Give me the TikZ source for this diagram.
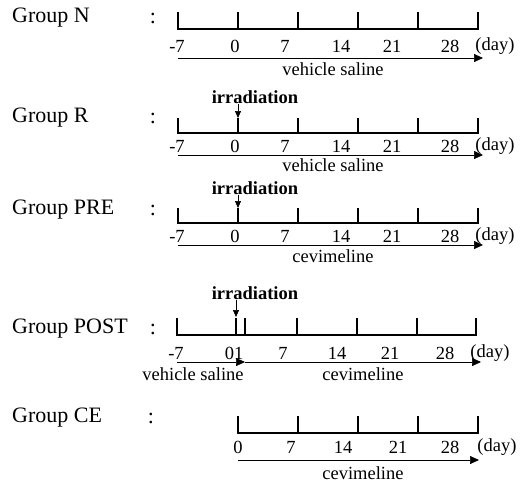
\documentclass[tikz,border=0pt]{standalone}
\usepackage{fontspec}
\setmainfont{Liberation Serif}
\usetikzlibrary{arrows.meta}
\begin{document}
\begin{tikzpicture}
[x=1pt,y=-1pt,
grp/.style={anchor=west,inner sep=0pt,font=\fontsize{22}{22}\selectfont},
colon/.style={inner sep=0pt,font=\fontsize{22}{22}\selectfont},
num/.style={inner sep=0pt,font=\fontsize{18.5}{18.5}\selectfont},
drug/.style={inner sep=0pt,font=\fontsize{18.5}{18.5}\selectfont},
irr/.style={inner sep=0pt,font=\bfseries\fontsize{18.5}{18.5}\selectfont},
axis/.style={line width=1.6pt},
treat/.style={line width=0.7pt,-{Triangle[length=9pt,width=8pt]}},
hit/.style={line width=0.7pt,-{Triangle[length=7pt,width=6pt]}},
]
\useasboundingbox (0,0) rectangle (527,485);

% Group N
\node[grp] (gN) at (12,18) {Group N};
\node[colon] (cN) at (153,18) {:};
\draw[axis] (178,12) -- (178,29) -- (478,29) -- (478,12);
\foreach \x in {238,298,358,418} \draw[axis] (\x,12) -- (\x,29);
\foreach \x/\d in {177/-7,235/0,285/7,341/14,392/21,450/28}
  \node[num] (lN\x) at (\x,46) {\d};
\node[num] (dN) at (495,46) {(day)};
\coordinate (sN) at (178,58);
\coordinate (eN) at (483,58);
\draw[treat] (sN) -- (eN);
\node[drug] (vN) at (333,69) {vehicle saline};

% Group R
\node[irr] (iR) at (255,97) {irradiation};
\coordinate (hR) at (238,118);
\draw[hit] (iR.south -| hR) -- (hR);
\node[grp] (gR) at (12,118) {Group R};
\node[colon] (cR) at (153,118) {:};
\draw[axis] (178,118) -- (178,133) -- (478,133) -- (478,118);
\foreach \x in {238,298,358,418} \draw[axis] (\x,118) -- (\x,133);
\foreach \x/\d in {177/-7,235/0,285/7,341/14,392/21,450/28}
  \node[num] (lR\x) at (\x,146) {\d};
\node[num] (dR) at (495,146) {(day)};
\coordinate (sR) at (178,155);
\coordinate (eR) at (483,155);
\draw[treat] (sR) -- (eR);
\node[drug] (vR) at (333,165) {vehicle saline};

% Group PRE
\node[irr] (iP) at (255,188) {irradiation};
\coordinate (hP) at (238,208);
\draw[hit] (iP.south -| hP) -- (hP);
\node[grp] (gP) at (12,210) {Group PRE};
\node[colon] (cP) at (153,210) {:};
\draw[axis] (178,208) -- (178,223) -- (478,223) -- (478,208);
\foreach \x in {238,298,358,418} \draw[axis] (\x,208) -- (\x,223);
\foreach \x/\d in {177/-7,235/0,285/7,341/14,392/21,450/28}
  \node[num] (lP\x) at (\x,236) {\d};
\node[num] (dP) at (495,236) {(day)};
\coordinate (sP) at (178,245);
\coordinate (eP) at (483,245);
\draw[treat] (sP) -- (eP);
\node[drug] (vP) at (333,256) {cevimeline};

% Group POST
\node[irr] (iT) at (255,293) {irradiation};
\coordinate (hT) at (236,317);
\draw[hit] (iT.south -| hT) -- (hT);
\node[grp] (gT) at (12,329) {Group POST};
\node[colon] (cT) at (153,329) {:};
\draw[axis] (177,318) -- (177,335) -- (476,335) -- (476,318);
\foreach \x in {236,245,297,357,417} \draw[axis] (\x,318) -- (\x,335);
\foreach \x/\d in {176/-7,234/01,283/7,337/14,390/21,445/28}
  \node[num] (lT\x) at (\x,353) {\d};
\node[num] (dT) at (490,353) {(day)};
\coordinate (sT) at (177,362);
\coordinate (mT) at (245,362);
\coordinate (eT) at (481,362);
\draw[treat] (sT) -- (mT);
\draw[treat] (mT) -- (eT);
\node[drug] (vT) at (193,374) {vehicle saline};
\node[drug] (wT) at (363,374) {cevimeline};

% Group CE
\node[grp] (gC) at (12,418) {Group CE};
\node[colon] (cC) at (151,418) {:};
\draw[axis] (238,416) -- (238,433) -- (478,433) -- (478,416);
\foreach \x in {298,358,418} \draw[axis] (\x,416) -- (\x,433);
\foreach \x/\d in {238/0,291/7,343/14,398/21,450/28}
  \node[num] (lC\x) at (\x,447) {\d};
\node[num] (dC) at (497,447) {(day)};
\coordinate (sC) at (238,460);
\coordinate (eC) at (479,460);
\draw[treat] (sC) -- (eC);
\node[drug] (vC) at (363,473) {cevimeline};
\end{tikzpicture}
\end{document}
